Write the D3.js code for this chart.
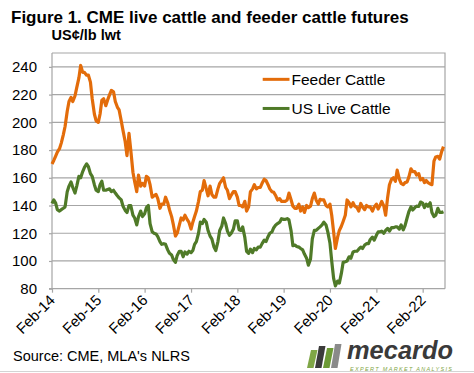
<!DOCTYPE html>
<html><head><meta charset="utf-8">
<script src="https://cdn.jsdelivr.net/npm/d3@7"></script>
<style>
html,body{margin:0;padding:0;background:#fff;}
svg{display:block;font-family:"Liberation Sans",Arial,sans-serif;}
</style></head>
<body><svg id="c" width="474" height="373"></svg>
<script>
const title = "Figure 1. CME live cattle and feeder cattle futures";
const unitLabel = "US¢/lb lwt";
const sourceText = "Source: CME, MLA's NLRS";
const seriesNames = ["Feeder Cattle", "US Live Cattle"];
const yTicks = [80,100,120,140,160,180,200,220,240];
const xTickDates = ["2014-02-01","2015-02-01","2016-02-01","2017-02-01","2018-02-01","2019-02-01","2020-02-01","2021-02-01","2022-02-01"];
const xTickLabels = ["Feb-14","Feb-15","Feb-16","Feb-17","Feb-18","Feb-19","Feb-20","Feb-21","Feb-22"];

const dates = [
"2014-02-01","2014-02-15","2014-03-01","2014-03-15","2014-04-01","2014-04-15","2014-05-01","2014-05-15","2014-06-01","2014-06-15",
"2014-07-01","2014-07-15","2014-08-01","2014-08-15","2014-09-01","2014-09-15","2014-10-01","2014-10-15","2014-11-01","2014-11-15",
"2014-12-01","2014-12-15","2015-01-01","2015-01-15","2015-02-01","2015-02-15","2015-03-01","2015-03-15","2015-04-01","2015-04-15",
"2015-05-01","2015-05-15","2015-06-01","2015-06-15","2015-07-01","2015-07-15","2015-08-01","2015-08-15","2015-09-01","2015-09-15",
"2015-10-01","2015-10-15","2015-11-01","2015-11-15","2015-12-01","2015-12-15","2016-01-01","2016-01-15","2016-02-01","2016-02-15",
"2016-03-01","2016-03-15","2016-04-01","2016-04-15","2016-05-01","2016-05-15","2016-06-01","2016-06-15","2016-07-01","2016-07-15",
"2016-08-01","2016-08-15","2016-09-01","2016-09-15","2016-10-01","2016-10-15","2016-11-01","2016-11-15","2016-12-01","2016-12-15",
"2017-01-01","2017-01-15","2017-02-01","2017-02-15","2017-03-01","2017-03-15","2017-04-01","2017-04-15","2017-05-01","2017-05-15",
"2017-06-01","2017-06-15","2017-07-01","2017-07-15","2017-08-01","2017-08-15","2017-09-01","2017-09-15","2017-10-01","2017-10-15",
"2017-11-01","2017-11-15","2017-12-01","2017-12-15","2018-01-01","2018-01-15","2018-02-01","2018-02-15","2018-03-01","2018-03-15",
"2018-04-01","2018-04-15","2018-05-01","2018-05-15","2018-06-01","2018-06-15","2018-07-01","2018-07-15","2018-08-01","2018-08-15",
"2018-09-01","2018-09-15","2018-10-01","2018-10-15","2018-11-01","2018-11-15","2018-12-01","2018-12-15","2019-01-01","2019-01-15",
"2019-02-01","2019-02-15","2019-03-01","2019-03-15","2019-04-01","2019-04-15","2019-05-01","2019-05-15","2019-06-01","2019-06-15",
"2019-07-01","2019-07-15","2019-08-01","2019-08-15","2019-09-01","2019-09-15","2019-10-01","2019-10-15","2019-11-01","2019-11-15",
"2019-12-01","2019-12-15","2020-01-01","2020-01-15","2020-02-01","2020-02-15","2020-03-01","2020-03-15","2020-04-01","2020-04-15",
"2020-05-01","2020-05-15","2020-06-01","2020-06-15","2020-07-01","2020-07-15","2020-08-01","2020-08-15","2020-09-01","2020-09-15",
"2020-10-01","2020-10-15","2020-11-01","2020-11-15","2020-12-01","2020-12-15","2021-01-01","2021-01-15","2021-02-01","2021-02-15",
"2021-03-01","2021-03-15","2021-04-01","2021-04-15","2021-05-01","2021-05-15","2021-06-01","2021-06-15","2021-07-01","2021-07-15",
"2021-08-01","2021-08-15","2021-09-01","2021-09-15","2021-10-01","2021-10-15","2021-11-01","2021-11-15","2021-12-01","2021-12-15",
"2022-01-01","2022-01-15","2022-02-01","2022-02-15","2022-03-01","2022-03-15","2022-04-01","2022-04-15","2022-05-01","2022-05-15",
"2022-06-01","2022-06-15","2022-07-01","2022-07-15"];

const feederCattle = [
170,172.5,175.5,178.5,181,185,191,197,208,215,
218,215,219,225,232,241,236,236,234,234,
229,217,206,201,200,206,216,217,212,216,
220,223,222,215,211,209,201,194,186,176,
192,180,164,157,150,162,154,156,154,161,
160,155,146,147,148,145,138,141,141,146,
142,137,132,126,118,120,126,131,129.6,133,
130,128,123,128,132,136,143,150,151,158,
152,147,154,148,146,146,152,156,158,160,
153,151,145,147.5,150,150,146,140,140,139,
143,136,139,150,152,155,152,153,153,156,
159,158,155,152,150,149.5,147,144,145,143,
143,143,144,149,144,139.5,138,138,141,136,
139,135,140,138.5,139.5,145,149,144,141,144.5,
144,144,140,139,141,133,121,109,117,122,
125,128.5,133,144,142,139,142,139.5,138.5,136,
141.5,139,137,140,139,139,136,139,141,137.5,
140,143,139.5,133,146,155,159,160,157.5,165.5,
159,156,155,156.5,157,160.5,166.5,164.5,164.5,162,
163,158.5,159.5,156.5,158,156.5,155.5,155,172,175,
175.5,173.5,179,182.5];

const liveCattle = [
141.4,144,142,137,136,137,138,139,150,154,
157,153,149,154,161,160,164.5,167.5,170,168,
163,161,155,151,150,155,157.5,151,151,151.5,
152,150,151,149,147,145.5,144,139.5,136.5,135,
140,140,133,131,126,132,136,132,134,138.5,
140,127,121,120,119.5,117.5,114,112,112.5,112,
108,105.5,104.3,101,99,104,107,107,103,106.5,
105,107,106,107.5,112,114,120,128,127,130,
128,122,118,116,110,107.5,114,122,125,131,
127,121.5,118.5,120,123,129,129,122.5,122,124.6,
117,107,105.5,108.5,106,109,108,110,110,112.5,
115,114,117.5,120,121,124,126,127,128,130.5,
130,130,130.5,129.6,121.5,111,111.5,110.5,110,109,
108,105,102,97,101.5,116,122,122,123.5,124.6,
126,128,126,121,113,100,87.5,82,85.5,84,
91,99,99.5,100,103,102,106.5,107,107,108.5,
110,109,111.5,112.5,112.5,115.5,117.2,115,118.5,121,
121,121.5,120,122,123.5,121.5,124,124,124.6,124.6,
123,126,122.5,125.5,131,135.5,139,136.8,138.5,139.5,
139.3,142.5,141.7,138.5,141,139.5,142,135,132,133,
138,135,135,135.5];

const colors = ["#E36C0A", "#4F7A28"];
const gridColor = "#A6A6A6";

const svg = d3.select("#c");
const parse = d3.timeParse("%Y-%m-%d");
const L = 52, R = 445, T = 53, B = 288.7;

const x = d3.scaleTime().domain([parse("2014-02-01"), parse("2022-07-27")]).range([L, R]);
const y = d3.scaleLinear().domain([80, 250]).range([B, T]);

// gridlines
svg.append("g").selectAll("line").data(yTicks.filter(v => v > 80)).join("line")
  .attr("x1", L).attr("x2", R).attr("y1", d => y(d)).attr("y2", d => y(d))
  .attr("stroke", gridColor).attr("stroke-width", 1.2);
// plot border top/right
svg.append("path").attr("d", `M${L},${T}H${R}V${B}`).attr("fill","none").attr("stroke", gridColor).attr("stroke-width", 1.2);

// y axis
const yAxis = svg.append("g").attr("transform", `translate(${L},0)`)
  .call(d3.axisLeft(y).tickValues(yTicks).tickSize(3).tickPadding(12).tickFormat(d3.format("d")));
yAxis.select(".domain").attr("d", `M-3,${B}H0V${T}`).attr("stroke", gridColor).attr("stroke-width",1.2);
yAxis.selectAll(".tick line").attr("stroke", gridColor).attr("stroke-width",1.2);
yAxis.selectAll("text").attr("font-size", 15).attr("fill", "#000").attr("font-family","Liberation Sans, Arial, sans-serif");

// x axis
const xAxis = svg.append("g").attr("transform", `translate(0,${B})`)
  .call(d3.axisBottom(x).tickValues(xTickDates.map(parse)).tickSize(4)
    .tickFormat((d,i) => xTickLabels[i]));
xAxis.select(".domain").attr("d", `M${L},0H${R}`).attr("stroke", gridColor).attr("stroke-width",1.2);
xAxis.selectAll(".tick line").attr("stroke", gridColor).attr("stroke-width",1.2);
xAxis.selectAll("text").attr("font-size", 15).attr("fill", "#000")
  .attr("font-family","Liberation Sans, Arial, sans-serif")
  .attr("text-anchor", "end").attr("dy", null).attr("y", null)
  .attr("transform", "translate(3.5,12.5) rotate(-45)");

// lines
const series = [feederCattle, liveCattle];
const line = d3.line().x((d,i) => x(parse(dates[i]))).y(d => y(d)).curve(d3.curveLinear);
series.forEach((vals, k) => {
  svg.append("path").datum(vals).attr("d", line)
    .attr("fill","none").attr("stroke", colors[k]).attr("stroke-width", 3.2)
    .attr("stroke-linejoin","round");
});

// legend
const legY = [y(231), y(210)];
seriesNames.forEach((n, k) => {
  svg.append("line").attr("x1", 262.7).attr("x2", 289.5).attr("y1", legY[k]).attr("y2", legY[k])
    .attr("stroke", colors[k]).attr("stroke-width", 3);
  svg.append("text").attr("x", 291.5).attr("y", legY[k]).attr("dy", "0.36em")
    .attr("font-size", 15.5).attr("fill", "#000").text(n);
});

// titles
svg.append("text").attr("x", 11).attr("y", 22.7).attr("font-size", 17).attr("font-weight", "bold").text(title);
svg.append("text").attr("x", 51.5).attr("y", 39.5).attr("font-size", 14.5).attr("font-weight", "bold").text(unitLabel);
svg.append("text").attr("x", 13).attr("y", 361).attr("font-size", 14.5).text(sourceText);

// bottom frame line
svg.append("line").attr("x1",0).attr("x2",474).attr("y1",371.5).attr("y2",371.5).attr("stroke","#d4d4d4");

// logo
const lg = svg.append("g");
const bars = [
  {x:307, h:18, c:"#7FA646"},
  {x:315, h:22, c:"#3b3b3b"},
  {x:323, h:20, c:"#6C9A35"},
  {x:331, h:24, c:"#8a8a8a"}
];
bars.forEach(b => {
  const base = 368, w = 6.5, sk = 4;
  lg.append("path").attr("d", `M${b.x},${base}L${b.x+w},${base}L${b.x+w+sk},${base-b.h}L${b.x+sk},${base-b.h}Z`).attr("fill", b.c);
});
lg.append("text").attr("x", 347).attr("y", 359).attr("font-size", 26).attr("font-weight","bold")
  .attr("font-style","italic").attr("fill","#3a3a3a").attr("textLength",106).attr("lengthAdjust","spacingAndGlyphs").text("mecardo");
lg.append("text").attr("x", 350).attr("y", 370.5).attr("font-size", 5.5).attr("font-style","italic")
  .attr("fill","#7FA646").attr("textLength",102).attr("lengthAdjust","spacing").text("EXPERT MARKET ANALYSIS");
</script></body></html>
